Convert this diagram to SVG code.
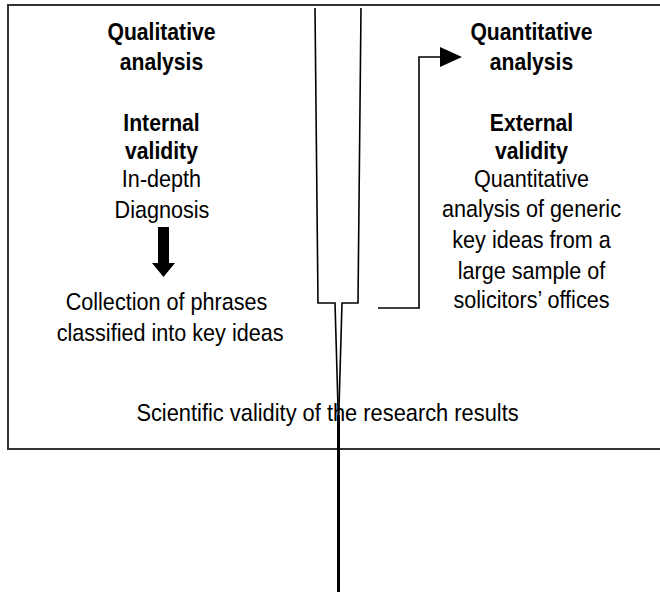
<svg xmlns="http://www.w3.org/2000/svg" width="660" height="597" viewBox="0 0 660 597">
<style>
.b{font-family:"Liberation Sans",Arial,sans-serif;font-size:23.5px;font-weight:bold;fill:#000;text-anchor:middle}
.r{font-family:"Liberation Sans",Arial,sans-serif;font-size:24px;fill:#000;text-anchor:middle}
.ln{fill:none;stroke:#000;stroke-width:1.6}
</style>
<defs>
<marker id="ah" markerWidth="22" markerHeight="20" refX="20" refY="10" orient="auto" markerUnits="userSpaceOnUse">
<path d="M0,0 L22,10 L0,20 Z" fill="#000"/>
</marker>
</defs>
<rect width="660" height="597" fill="#fff"/>
<g id="frame">
<path d="M662,5 H8 V449 H662" fill="none" stroke="#333" stroke-width="2"/>
</g>
<g id="funnel">
<path class="ln" d="M315,8 L318,303 L335,303 L338.5,425"/>
<path class="ln" d="M361,8 L358,303 L342,303 L338.5,425"/>
<line x1="338.5" y1="415" x2="338.5" y2="592" stroke="#000" stroke-width="3"/>
</g>
<g id="qualitative" transform="translate(161.5,0) scale(0.9,1)">
<text class="b" x="0" y="40.5">Qualitative</text>
<text class="b" x="0" y="70">analysis</text>
<text class="b" x="0" y="131.5">Internal</text>
<text class="b" x="0" y="159">validity</text>
<text class="r" x="0" y="187">In-depth</text>
<text class="r" x="0.5" y="218.5">Diagnosis</text>
</g>
<g id="down-arrow">
<path d="M158,227 H169 V263 H175 L163.5,277 L152,263 H158 Z" fill="#000"/>
</g>
<g id="collection" transform="translate(162,0) scale(0.9,1)">
<text class="r" x="5" y="310">Collection of phrases</text>
<text class="r" x="9" y="341.5">classified into key ideas</text>
</g>
<g id="quantitative" transform="translate(531.5,0) scale(0.9,1)">
<text class="b" x="0" y="40.5">Quantitative</text>
<text class="b" x="0" y="70">analysis</text>
<text class="b" x="0" y="131.5">External</text>
<text class="b" x="0" y="159">validity</text>
<text class="r" x="0" y="187">Quantitative</text>
<text class="r" x="0" y="217">analysis of generic</text>
<text class="r" x="0" y="248.5">key ideas from a</text>
<text class="r" x="0" y="279">large sample of</text>
<text class="r" x="0" y="308.5">solicitors’ offices</text>
</g>
<g id="scientific" transform="translate(327.5,0) scale(0.91,1)">
<text class="r" x="0" y="421.5">Scientific validity of the research results</text>
</g>
<g id="connectors">
<polyline class="ln" points="378,308 419,308 419,57 460,57" marker-end="url(#ah)"/>
</g>
</svg>
